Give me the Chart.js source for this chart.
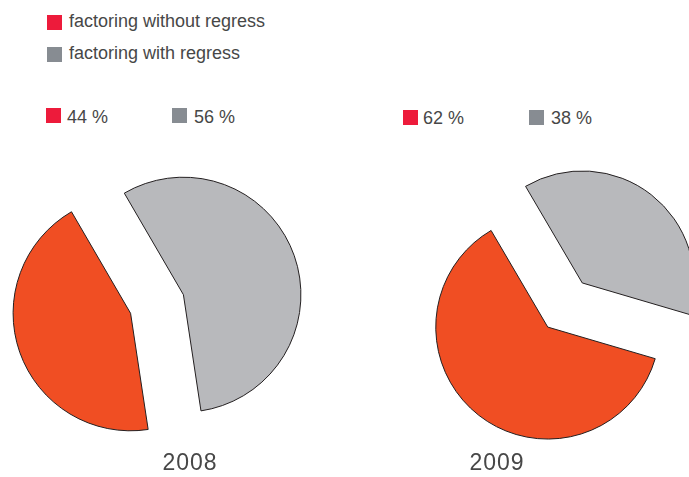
<!DOCTYPE html>
<html>
<head>
<meta charset="utf-8">
<script src="https://cdn.jsdelivr.net/npm/chart.js@4"></script>
<style>
  html, body { margin: 0; padding: 0; background: #fff; }
  #wrap { position: relative; width: 689px; height: 477px; overflow: hidden;
          font-family: "Liberation Sans", Arial, Helvetica, sans-serif; color: #474747; }
  .sq { position: absolute; width: 15px; height: 15px; }
  .txt { position: absolute; font-size: 18px; line-height: 18px; white-space: nowrap; }
  .year { position: absolute; font-size: 23px; line-height: 23px; letter-spacing: 1px;
          width: 120px; text-align: center; }
  .pie { position: absolute; width: 330px; height: 330px; }
</style>
</head>
<body>
<div id="wrap">
  <div class="sq" style="left:47px;top:15px;background:#ed1b3b"></div>
  <div class="txt" id="cat0" style="left:69px;top:12px"></div>
  <div class="sq" style="left:47px;top:47px;background:#878c92"></div>
  <div class="txt" id="cat1" style="left:69px;top:44px"></div>

  <div class="sq" style="left:46px;top:108px;background:#ed1b3b"></div>
  <div class="txt" id="p0a" style="left:67px;top:108px"></div>
  <div class="sq" style="left:172px;top:108px;background:#878c92"></div>
  <div class="txt" id="p0b" style="left:194px;top:108px"></div>

  <div class="sq" style="left:403px;top:110px;background:#ed1b3b"></div>
  <div class="txt" id="p1a" style="left:423px;top:109px"></div>
  <div class="sq" style="left:529px;top:110px;background:#878c92"></div>
  <div class="txt" id="p1b" style="left:551px;top:109px"></div>

  <div class="pie" style="left:-8px;top:139px"><canvas id="pie0" width="330" height="330"></canvas></div>
  <div class="pie" style="left:400px;top:140px"><canvas id="pie1" width="330" height="330"></canvas></div>

  <div class="year" id="y0" style="left:130px;top:451px"></div>
  <div class="year" id="y1" style="left:437px;top:451px"></div>
</div>
<script>
const years = ['2008', '2009'];
const categories = ['factoring without regress', 'factoring with regress'];
const withoutRegress = [44, 62];
const withRegress = [56, 38];

document.getElementById('cat0').textContent = categories[0];
document.getElementById('cat1').textContent = categories[1];
years.forEach((y, i) => {
  document.getElementById('y' + i).textContent = y;
  document.getElementById('p' + i + 'a').textContent = withoutRegress[i] + ' %';
  document.getElementById('p' + i + 'b').textContent = withRegress[i] + ' %';
});

// push every slice out from the centre along its middle angle
const explode = {
  id: 'explode',
  afterUpdate(chart, args, opts) {
    const d = opts.distance || 0;
    chart.getDatasetMeta(0).data.forEach(arc => {
      const mid = (arc.startAngle + arc.endAngle) / 2;
      arc.x += Math.cos(mid) * d;
      arc.y += Math.sin(mid) * d;
    });
  }
};

const pieStyle = [
  { radius: 117.5, rotation: 171.4 },
  { radius: 112, rotation: 106.4 }
];

years.forEach((y, i) => {
  new Chart(document.getElementById('pie' + i), {
    type: 'pie',
    data: {
      labels: categories,
      datasets: [{
        data: [withoutRegress[i], withRegress[i]],
        backgroundColor: ['#f04e23', '#b8b9bc'],
        borderColor: '#231f20',
        borderWidth: 1
      }]
    },
    options: {
      responsive: false,
      animation: false,
      events: [],
      radius: pieStyle[i].radius,
      rotation: pieStyle[i].rotation,
      layout: { padding: 0 },
      plugins: {
        legend: { display: false },
        tooltip: { enabled: false },
        explode: { distance: 28 }
      }
    },
    plugins: [explode]
  });
});
</script>
</body>
</html>
